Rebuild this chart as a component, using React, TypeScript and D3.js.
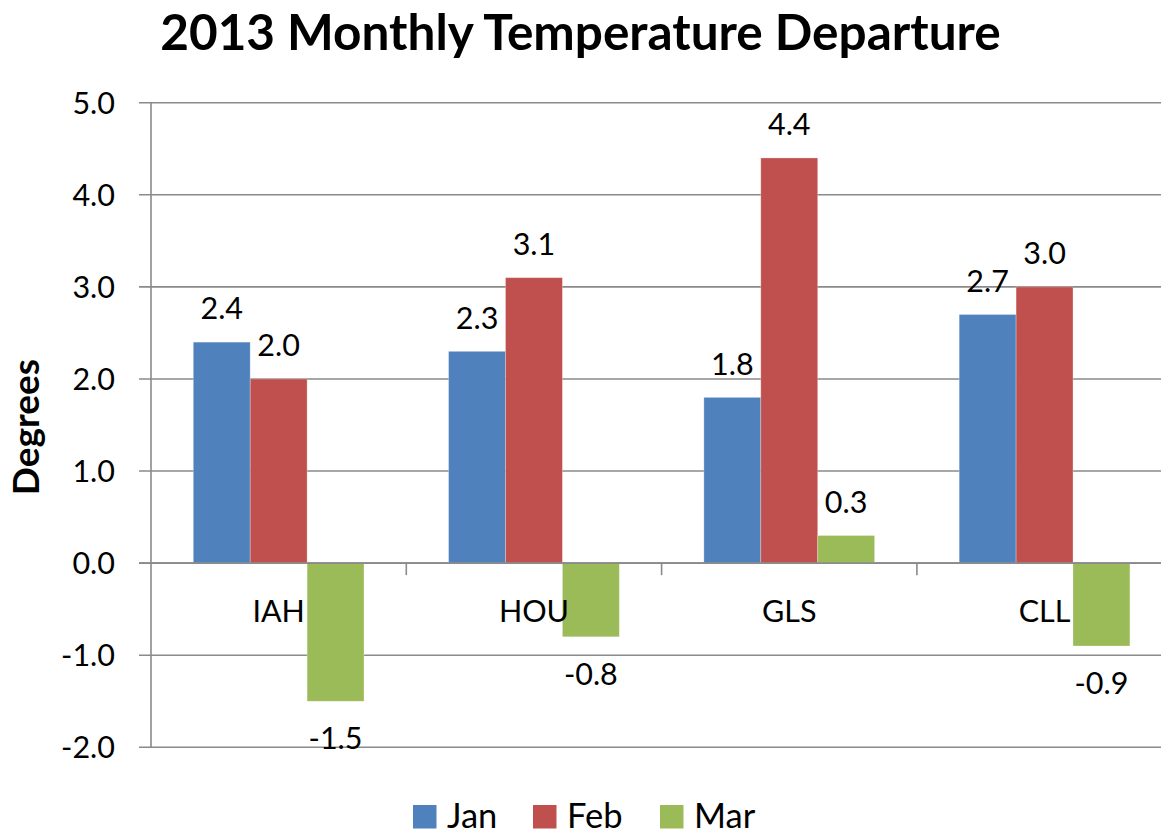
import React from "react";
import * as d3 from "d3";

const categories = ["IAH", "HOU", "GLS", "CLL"];
const seriesNames = ["Jan", "Feb", "Mar"];
const janValues = [2.4, 2.3, 1.8, 2.7];
const febValues = [2.0, 3.1, 4.4, 3.0];
const marValues = [-1.5, -0.8, 0.3, -0.9];
const yTicks = [5, 4, 3, 2, 1, 0, -1, -2];
const colors = ["#4F81BD", "#C0504D", "#9BBB59"];

const W = 1161;
const H = 834;
const FONT = "Lato, 'Open Sans', sans-serif";

export default function App() {
  const series = [janValues, febValues, marValues];
  const left = 151;
  const catW = 255.3;
  const x0 = d3.scaleBand<string>().domain(categories).range([left, left + catW * 4]).padding(0);
  const x1 = d3.scaleBand<string>().domain(seriesNames).range([0, x0.bandwidth()]).paddingInner(0).paddingOuter(0.743);
  const y = d3.scaleLinear().domain([-2, 5]).range([747.3, 102.7]);
  const zeroY = y(0);
  const f = d3.format(".1f");
  const fmt = (v: number) => f(v).replace("\u2212", "-");

  return (
    <svg width={W} height={H} style={{ position: "absolute", left: 0, top: 0, background: "#fff" }}>
      <text x={W / 2} y={50} textAnchor="middle" fontFamily={FONT} fontWeight={700} fontSize={49.5} fill="#000">
        2013 Monthly Temperature Departure
      </text>
      <text
        transform={`translate(39, ${(y(5) + y(-2)) / 2 + 2}) rotate(-90)`}
        textAnchor="middle"
        fontFamily={FONT}
        fontWeight={700}
        fontSize={37}
        fill="#000"
      >
        Degrees
      </text>
      {/* gridlines */}
      {yTicks.map((t) => (
        <g key={t}>
          <line x1={139} x2={W} y1={y(t)} y2={y(t)} stroke="#8a8a8a" strokeWidth={1.6} />
          <text x={115} y={y(t) + 11} textAnchor="end" fontFamily={FONT} fontSize={30.5} fill="#000">
            {fmt(t)}
          </text>
        </g>
      ))}
      {/* bars */}
      {categories.map((c, ci) => (
        <g key={c}>
          {series.map((vals, si) => {
            const v = vals[ci];
            const bx = (x0(c) as number) + (x1(seriesNames[si]) as number);
            const top = Math.min(y(v), zeroY);
            const h = Math.abs(y(v) - zeroY);
            return (
              <rect
                key={si}
                x={bx}
                y={top}
                width={x1.bandwidth()}
                height={h}
                fill={colors[si]}
                stroke="#ffffff"
                strokeOpacity={0.35}
                strokeWidth={0.8}
              />
            );
          })}
        </g>
      ))}
      {/* axes */}
      <line x1={left} x2={left} y1={y(5)} y2={y(-2)} stroke="#8a8a8a" strokeWidth={1.6} />
      <line x1={139} x2={W} y1={zeroY} y2={zeroY} stroke="#8a8a8a" strokeWidth={1.6} />
      {categories.map((c, ci) =>
        ci > 0 ? (
          <line key={c} x1={x0(c) as number} x2={x0(c) as number} y1={zeroY} y2={zeroY + 12} stroke="#8a8a8a" strokeWidth={1.6} />
        ) : null
      )}
      {/* category labels */}
      {categories.map((c) => (
        <text
          key={c}
          x={(x0(c) as number) + x0.bandwidth() / 2}
          y={zeroY + 59}
          textAnchor="middle"
          fontFamily={FONT}
          fontSize={30.5}
          fill="#000"
        >
          {c}
        </text>
      ))}
      {/* data labels */}
      {categories.map((c, ci) => (
        <g key={c}>
          {series.map((vals, si) => {
            const v = vals[ci];
            const cx = (x0(c) as number) + (x1(seriesNames[si]) as number) + x1.bandwidth() / 2;
            const ly = v >= 0 ? y(v) - 22.7 : y(v) + 48;
            return (
              <text key={si} x={cx} y={ly} textAnchor="middle" fontFamily={FONT} fontSize={30.5} fill="#000">
                {fmt(v)}
              </text>
            );
          })}
        </g>
      ))}
      {/* legend */}
      {seriesNames.map((s, i) => {
        const lx = [413, 533, 660][i];
        return (
          <g key={s}>
            <rect x={lx} y={805} width={23.5} height={23.5} fill={colors[i]} />
            <text x={lx + 34} y={828} fontFamily={FONT} fontSize={34.5} fill="#000">
              {s}
            </text>
          </g>
        );
      })}
    </svg>
  );
}
